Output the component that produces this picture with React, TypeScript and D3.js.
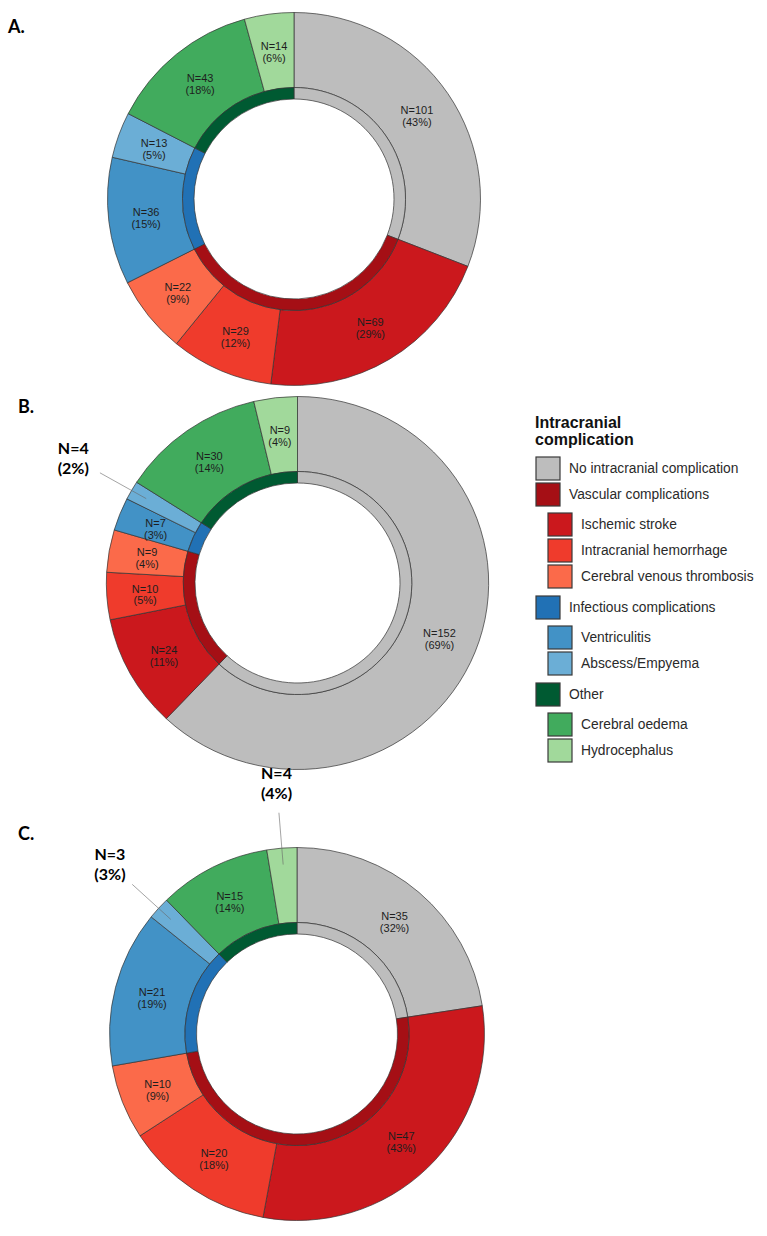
import React from "react";
import * as d3 from "d3";

// ---- data ----
const categories = [
  "No intracranial complication",
  "Ischemic stroke",
  "Intracranial hemorrhage",
  "Cerebral venous thrombosis",
  "Ventriculitis",
  "Abscess/Empyema",
  "Cerebral oedema",
  "Hydrocephalus",
];
const groupOfCategory = ["none", "vascular", "vascular", "vascular", "infectious", "infectious", "other", "other"];
const groups = ["none", "vascular", "infectious", "other"];

const countsA = [101, 69, 29, 22, 36, 13, 43, 14];
const pctA = [43, 29, 12, 9, 15, 5, 18, 6];
const countsB = [152, 24, 10, 9, 7, 4, 30, 9];
const pctB = [69, 11, 5, 4, 3, 2, 14, 4];
const countsC = [35, 47, 20, 10, 21, 3, 15, 4];
const pctC = [32, 43, 18, 9, 19, 3, 14, 4];

const panelLetters = ["A.", "B.", "C."];

const legendLabels = [
  "No intracranial complication",
  "Vascular complications",
  "Ischemic stroke",
  "Intracranial hemorrhage",
  "Cerebral venous thrombosis",
  "Infectious complications",
  "Ventriculitis",
  "Abscess/Empyema",
  "Other",
  "Cerebral oedema",
  "Hydrocephalus",
];
const legendKeys = ["none", "vascular", "Ischemic stroke", "Intracranial hemorrhage", "Cerebral venous thrombosis", "infectious", "Ventriculitis", "Abscess/Empyema", "other", "Cerebral oedema", "Hydrocephalus"];
const legendLevels = [0, 0, 1, 1, 1, 0, 1, 1, 0, 1, 1];

const colors: Record<string, string> = {
  "No intracranial complication": "#BDBDBD",
  "Ischemic stroke": "#CB181D",
  "Intracranial hemorrhage": "#EF3B2C",
  "Cerebral venous thrombosis": "#FB6A4A",
  Ventriculitis: "#4292C6",
  "Abscess/Empyema": "#6BAED6",
  "Cerebral oedema": "#41AB5D",
  Hydrocephalus: "#A1D99B",
  none: "#BDBDBD",
  vascular: "#A50F15",
  infectious: "#2171B5",
  other: "#005A32",
};

// ---- layout ----
const W = 767;
const H = 1236;
const panels = [
  { counts: countsA, pcts: pctA, cx: 294, cy: 199, sx: 1.0, letterX: 8, letterY: 33 },
  { counts: countsB, pcts: pctB, cx: 297.5, cy: 583, sx: 1.025, letterX: 18, letterY: 413 },
  { counts: countsC, pcts: pctC, cx: 297, cy: 1034, sx: 1.005, letterX: 18, letterY: 840 },
];
const rHole = 100;
const rInnerOuter = 111.5;
const rOuter = 186.5;

const pie = d3.pie<number>().sort(null).value((d) => d);
const outerArc = d3.arc<d3.PieArcDatum<number>>().innerRadius(rInnerOuter).outerRadius(rOuter);
const innerArc = d3.arc<d3.PieArcDatum<number>>().innerRadius(rHole).outerRadius(rInnerOuter);

function Donut({ p, idx }: { p: (typeof panels)[number]; idx: number }) {
  const arcs = pie(p.counts);
  const groupSums = groups.map((g) =>
    d3.sum(p.counts.filter((_, i) => groupOfCategory[i] === g))
  );
  const innerArcs = pie(groupSums);
  return (
    <g>
      <g transform={`translate(${p.cx},${p.cy}) scale(${p.sx},1)`}>
        {arcs.map((a, i) => (
          <path key={"o" + i} d={outerArc(a) || ""} fill={colors[categories[i]]} stroke="#333" strokeWidth={0.7} />
        ))}
        {innerArcs.map((a, i) => (
          <path key={"i" + i} d={innerArc(a) || ""} fill={colors[groups[i]]} stroke="#333" strokeWidth={0.7} />
        ))}
      </g>
      <g transform={`translate(${p.cx},${p.cy})`}>
        {arcs.map((a, i) => {
          const span = ((a.endAngle - a.startAngle) * 180) / Math.PI;
          const mid = (a.startAngle + a.endAngle) / 2;
          if (span >= 10) {
            const [x, y] = outerArc.centroid(a);
            return (
              <text key={"t" + i} x={x * p.sx} y={y} textAnchor="middle" fontFamily="'Liberation Sans', Arial, sans-serif" fontSize={11} fill="#1e1e1e">
                <tspan x={x * p.sx} dy={-1}>{`N=${p.counts[i]}`}</tspan>
                <tspan x={x * p.sx} dy={12}>{`(${p.pcts[i]}%)`}</tspan>
              </text>
            );
          }
          const pt = (r: number) => [Math.sin(mid) * r * p.sx, -Math.cos(mid) * r];
          const [x1, y1] = pt(170);
          const [x2, y2] = pt(222);
          const [lx, ly] = pt(252);
          return (
            <g key={"t" + i}>
              <line x1={x1} y1={y1} x2={x2} y2={y2} stroke="#666" strokeWidth={0.6} />
              <text x={lx} y={ly} textAnchor="middle" fontFamily="Lato, 'Open Sans', sans-serif" fontWeight="bold" fontSize={16} fill="#000">
                <tspan x={lx} dy={-4}>{`N=${p.counts[i]}`}</tspan>
                <tspan x={lx} dy={20}>{`(${p.pcts[i]}%)`}</tspan>
              </text>
            </g>
          );
        })}
      </g>
      <text x={p.letterX} y={p.letterY} fontFamily="Lato, 'Open Sans', sans-serif" fontWeight="bold" fontSize={18} fill="#000">
        {panelLetters[idx]}
      </text>
    </g>
  );
}

function Legend() {
  const ys: number[] = [];
  let y = 457;
  legendLevels.forEach((lvl, i) => {
    if (i > 0) {
      const prev = legendLevels[i - 1];
      if (prev === 0 && lvl === 0) y += 26;
      else if (prev === 0 && lvl === 1) y += 30;
      else if (prev === 1 && lvl === 1) y += 26;
      else y += 31;
    }
    ys.push(y);
  });
  return (
    <g>
      <text x={535} y={428} fontFamily="'Liberation Sans', Arial, sans-serif" fontWeight="bold" fontSize={16} fill="#111">Intracranial</text>
      <text x={535} y={445} fontFamily="'Liberation Sans', Arial, sans-serif" fontWeight="bold" fontSize={16} fill="#111">complication</text>
      {legendLabels.map((lab, i) => {
        const bx = legendLevels[i] === 0 ? 536 : 548;
        const tx = legendLevels[i] === 0 ? 569 : 581;
        return (
          <g key={lab}>
            <rect x={bx} y={ys[i]} width={24} height={23} fill={colors[legendKeys[i]]} stroke="#3a3a3a" strokeWidth={1.2} />
            <text x={tx} y={ys[i] + 16} fontFamily="'Liberation Sans', Arial, sans-serif" fontSize={13.8} fill="#2a2a2a">{lab}</text>
          </g>
        );
      })}
    </g>
  );
}

export default function App() {
  return (
    <div style={{ position: "absolute", left: 0, top: 0 }}>
      <svg width={W} height={H} viewBox={`0 0 ${W} ${H}`} style={{ display: "block", background: "#fff" }}>
        {panels.map((p, i) => (
          <Donut key={i} p={p} idx={i} />
        ))}
        <Legend />
      </svg>
    </div>
  );
}
